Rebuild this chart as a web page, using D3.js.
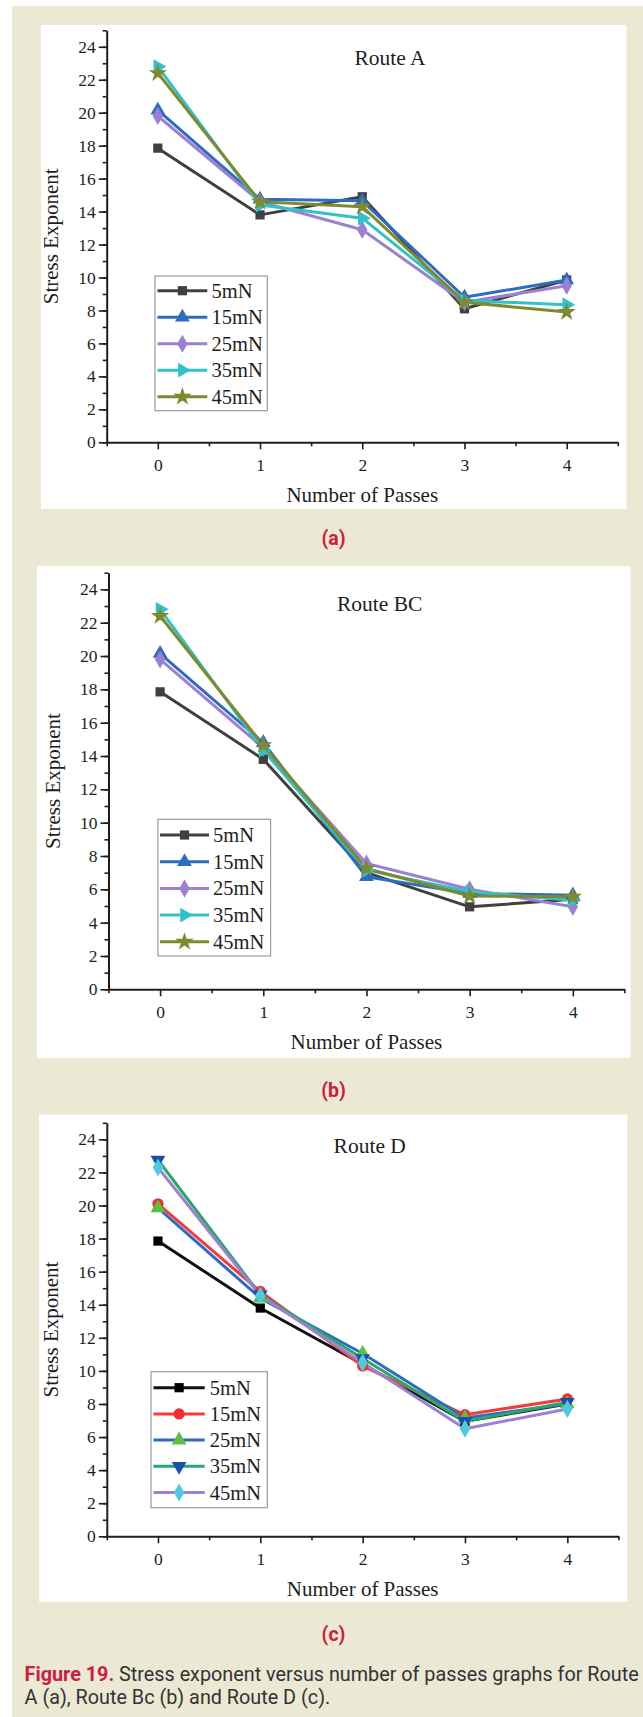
<!DOCTYPE html>
<html>
<head>
<meta charset="utf-8">
<script src="https://cdn.jsdelivr.net/npm/d3@7"></script>
<style>
  html, body { margin: 0; padding: 0; background: #ffffff; }
  svg { display: block; }
</style>
</head>
<body>
<svg id="chart" width="643" height="1717"></svg>
<script>
// ---------------- DATA ----------------
const passes = [0, 1, 2, 3, 4];
const loadNames = ["5mN", "15mN", "25mN", "35mN", "45mN"];
const yTickValues = [0, 2, 4, 6, 8, 10, 12, 14, 16, 18, 20, 22, 24];
const panelTitles = ["Route A", "Route BC", "Route D"];
const panelLetters = ["(a)", "(b)", "(c)"];

// Route A
const routeA_5mN  = [17.85, 13.8, 14.9, 8.1, 9.85];
const routeA_15mN = [20.15, 14.75, 14.65, 8.8, 9.85];
const routeA_25mN = [19.8, 14.6, 12.9, 8.5, 9.5];
const routeA_35mN = [22.8, 14.4, 13.6, 8.6, 8.35];
const routeA_45mN = [22.4, 14.6, 14.3, 8.5, 7.9];

// Route BC
const routeBC_5mN  = [17.85, 13.8, 7.0, 4.95, 5.4];
const routeBC_15mN = [20.15, 14.8, 6.75, 5.75, 5.65];
const routeBC_25mN = [19.8, 14.5, 7.55, 6.0, 4.95];
const routeBC_35mN = [22.8, 14.35, 7.15, 5.85, 5.35];
const routeBC_45mN = [22.4, 14.65, 7.25, 5.6, 5.55];

// Route D
const routeD_5mN  = [17.85, 13.8, 10.4, 6.95, 8.0];
const routeD_15mN = [20.1, 14.8, 10.3, 7.35, 8.3];
const routeD_25mN = [19.85, 14.4, 11.05, 7.15, 8.0];
const routeD_35mN = [22.75, 14.6, 10.75, 6.95, 8.1];
const routeD_45mN = [22.3, 14.55, 10.5, 6.5, 7.7];

const captionBold = "Figure 19.";
const captionLine1 = " Stress exponent versus number of passes graphs for Route";
const captionLine2 = "A (a), Route Bc (b) and Route D (c).";

// ---------------- STYLES ----------------
const serif = "'Liberation Serif', 'Times New Roman', serif";
const axisColor = "#1e1e1e";

const styleAB = [
  { line: "#404040", fill: "#404040", sym: d3.symbolSquare, size: 85, rot: 0 },
  { line: "#2e6cc2", fill: "#2e6cc2", sym: d3.symbolTriangle, size: 95, rot: 0 },
  { line: "#9c80d2", fill: "#9c80d2", sym: d3.symbolDiamond, size: 95, rot: 0 },
  { line: "#30c2c8", fill: "#30c2c8", sym: d3.symbolTriangle, size: 95, rot: 90 },
  { line: "#7e8a2c", fill: "#7e8a2c", sym: d3.symbolStar, size: 105, rot: 0 }
];
const styleC = [
  { line: "#111111", fill: "#000000", sym: d3.symbolSquare, size: 85, rot: 0 },
  { line: "#f43b3b", fill: "#f03030", sym: d3.symbolCircle, size: 100, rot: 0 },
  { line: "#2e6cc2", fill: "#5cbf3f", sym: d3.symbolTriangle, size: 95, rot: 0 },
  { line: "#29a86c", fill: "#1d4ea8", sym: d3.symbolTriangle, size: 95, rot: 180 },
  { line: "#9c80d2", fill: "#4fc9dc", sym: d3.symbolDiamond, size: 95, rot: 0 }
];

const panels = [
  {
    series: [routeA_5mN, routeA_15mN, routeA_25mN, routeA_35mN, routeA_45mN],
    style: styleAB,
    rect: [41, 25, 585.5, 484],
    xr: [106.7, 617.8], yr: [442.3, 30.3],
    titleX: 390, titleY: 65,
    ylabX: 57.5,
    legBox: [155, 276, 112.3, 134.7], legRow0: 290.7, legStep: 26.5,
    legLine: [157.5, 207.3], legText: 211.5,
    letterY: 545
  },
  {
    series: [routeBC_5mN, routeBC_15mN, routeBC_25mN, routeBC_35mN, routeBC_45mN],
    style: styleAB,
    rect: [37, 566, 593.6, 492],
    xr: [108.5, 624.4], yr: [989.3, 572.7],
    titleX: 379.7, titleY: 610.7,
    ylabX: 60,
    legBox: [157.9, 819.3, 112.7, 136.7], legRow0: 835, legStep: 26.7,
    legLine: [160, 209], legText: 213,
    letterY: 1097
  },
  {
    series: [routeD_5mN, routeD_15mN, routeD_25mN, routeD_35mN, routeD_45mN],
    style: styleC,
    rect: [39, 1114.5, 588.3, 487.2],
    xr: [106.8, 618.5], yr: [1536.3, 1122.8],
    titleX: 369.7, titleY: 1153,
    ylabX: 57.5,
    legBox: [151, 1371.7, 116.3, 136], legRow0: 1387.7, legStep: 26.2,
    legLine: [153.5, 204.7], legText: 209.7,
    letterY: 1640.5
  }
];

// ---------------- DRAW ----------------
const svg = d3.select("#chart");

// page background
svg.append("rect").attr("x", 0).attr("y", 0).attr("width", 643).attr("height", 1717).attr("fill", "#ffffff");
svg.append("rect").attr("x", 12).attr("y", 6).attr("width", 631).attr("height", 1711).attr("fill", "#ebe8d4");

panels.forEach((p, pi) => {
  const g = svg.append("g");
  g.append("rect")
    .attr("x", p.rect[0]).attr("y", p.rect[1])
    .attr("width", p.rect[2]).attr("height", p.rect[3])
    .attr("fill", "#ffffff");

  const x = d3.scaleLinear().domain([-0.5, 4.5]).range(p.xr);
  const y = d3.scaleLinear().domain([0, 25]).range(p.yr);

  // Y axis: minor ticks
  const yMinor = g.append("g").attr("transform", `translate(${p.xr[0]},0)`)
    .call(d3.axisLeft(y).tickValues(d3.range(0, 26, 1)).tickSize(4).tickSizeOuter(0).tickFormat(""));
  yMinor.select(".domain").remove();
  // Y axis: major ticks with labels
  const yMajor = g.append("g").attr("transform", `translate(${p.xr[0]},0)`)
    .call(d3.axisLeft(y).tickValues(yTickValues).tickSize(8).tickSizeOuter(0).tickPadding(3));
  // X axis: minor ticks
  const xMinor = g.append("g").attr("transform", `translate(0,${p.yr[0]})`)
    .call(d3.axisBottom(x).tickValues([-0.5, 0.5, 1.5, 2.5, 3.5, 4.5]).tickSize(4).tickSizeOuter(0).tickFormat(""));
  xMinor.select(".domain").remove();
  const xMajor = g.append("g").attr("transform", `translate(0,${p.yr[0]})`)
    .call(d3.axisBottom(x).tickValues(passes).tickSize(7).tickSizeOuter(0).tickPadding(9).tickFormat(d3.format("d")));

  [yMinor, yMajor, xMinor, xMajor].forEach(a => {
    a.selectAll("line").attr("stroke", axisColor).attr("stroke-width", 1.6);
    a.selectAll(".domain").attr("stroke", axisColor).attr("stroke-width", 2);
    a.selectAll("text").attr("fill", axisColor)
      .style("font-family", serif).style("font-size", "17.5px");
  });

  // Axis titles
  g.append("text")
    .attr("transform", `translate(${p.ylabX},${(p.yr[0] + p.yr[1]) / 2}) rotate(-90)`)
    .attr("text-anchor", "middle")
    .style("font-family", serif).style("font-size", "21px")
    .attr("fill", axisColor)
    .text("Stress Exponent");
  g.append("text")
    .attr("x", (p.xr[0] + p.xr[1]) / 2).attr("y", p.yr[0] + 60)
    .attr("text-anchor", "middle")
    .style("font-family", serif).style("font-size", "21px")
    .attr("fill", axisColor)
    .text("Number of Passes");

  // Title
  g.append("text")
    .attr("x", p.titleX).attr("y", p.titleY)
    .attr("text-anchor", "middle")
    .style("font-family", serif).style("font-size", "21.5px")
    .attr("fill", axisColor)
    .text(panelTitles[pi]);

  // Lines
  const line = d3.line().x((d, i) => x(passes[i])).y(d => y(d));
  p.series.forEach((vals, si) => {
    const st = p.style[si];
    g.append("path").datum(vals)
      .attr("d", line)
      .attr("fill", "none")
      .attr("stroke", st.line)
      .attr("stroke-width", 3)
      .attr("stroke-linejoin", "round");
  });
  // Markers
  p.series.forEach((vals, si) => {
    const st = p.style[si];
    g.selectAll(null).data(vals).enter().append("path")
      .attr("d", d3.symbol().type(st.sym).size(st.size))
      .attr("transform", (d, i) => `translate(${x(passes[i])},${y(d)}) rotate(${st.rot})`)
      .attr("fill", st.fill);
  });

  // Legend
  const lb = p.legBox;
  g.append("rect")
    .attr("x", lb[0]).attr("y", lb[1]).attr("width", lb[2]).attr("height", lb[3])
    .attr("fill", "#ffffff").attr("stroke", "#9a9a9a").attr("stroke-width", 1.2);
  loadNames.forEach((name, si) => {
    const st = p.style[si];
    const ry = p.legRow0 + si * p.legStep;
    g.append("line")
      .attr("x1", p.legLine[0]).attr("x2", p.legLine[1])
      .attr("y1", ry).attr("y2", ry)
      .attr("stroke", st.line).attr("stroke-width", 3);
    g.append("path")
      .attr("d", d3.symbol().type(st.sym).size(st.size))
      .attr("transform", `translate(${(p.legLine[0] + p.legLine[1]) / 2},${ry}) rotate(${st.rot})`)
      .attr("fill", st.fill);
    g.append("text")
      .attr("x", p.legText).attr("y", ry + 7)
      .style("font-family", serif).style("font-size", "20.5px")
      .attr("fill", axisColor)
      .text(name);
  });

  // Panel letter
  svg.append("text")
    .attr("x", 333.5).attr("y", p.letterY)
    .attr("text-anchor", "middle")
    .style("font-family", "Roboto, 'Noto Sans', sans-serif")
    .style("font-size", "19.5px").style("font-weight", "bold")
    .attr("fill", "#c8203f")
    .text(panelLetters[pi]);
});

// Caption
const cap1 = svg.append("text").attr("x", 24.6).attr("y", 1681)
  .style("font-family", "Roboto, 'Noto Sans', sans-serif").style("font-size", "19.8px");
cap1.append("tspan").attr("fill", "#c8203f").style("font-weight", "bold").text(captionBold);
cap1.append("tspan").attr("fill", "#333333").text(captionLine1);
svg.append("text").attr("x", 24.6).attr("y", 1704)
  .style("font-family", "Roboto, 'Noto Sans', sans-serif").style("font-size", "19.8px")
  .attr("fill", "#333333")
  .text(captionLine2);
</script>
</body>
</html>
